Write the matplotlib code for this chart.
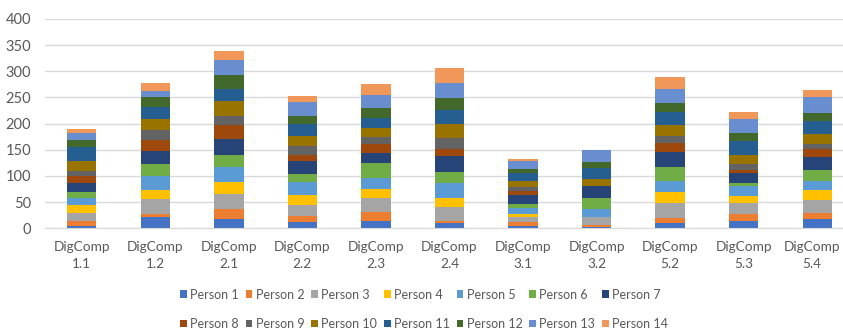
import numpy as np
import matplotlib
matplotlib.use('Agg')
import matplotlib.pyplot as plt
from matplotlib.transforms import ScaledTranslation

plt.rcParams['font.family'] = ['Lato', 'DejaVu Sans']

# Datos
categorias = ['DigComp\n1.1', 'DigComp\n1.2', 'DigComp\n2.1', 'DigComp\n2.2', 'DigComp\n2.3',
              'DigComp\n2.4', 'DigComp\n3.1', 'DigComp\n3.2', 'DigComp\n5.2', 'DigComp\n5.3',
              'DigComp\n5.4']

person_1 = [5, 21, 18, 12, 14, 10, 5, 3, 11, 14, 18]
person_2 = [9, 7, 18, 11, 18, 4, 7, 4, 9, 14, 11]
person_3 = [16, 28, 30, 22, 25, 26, 9, 14, 28, 20, 26]
person_4 = [14, 17, 22, 19, 18, 17, 6, 0, 22, 14, 18]
person_5 = [13, 27, 29, 25, 22, 29, 11, 16, 20, 18, 17]
person_6 = [13, 22, 23, 15, 27, 22, 9, 20, 28, 7, 21]
person_7 = [16, 25, 30, 25, 20, 30, 16, 23, 27, 18, 25]
person_8 = [13, 21, 27, 11, 17, 13, 9, 0, 18, 7, 15]
person_9 = [11, 20, 18, 18, 13, 21, 6, 0, 14, 11, 11]
person_10 = [18, 20, 29, 18, 18, 27, 12, 15, 20, 17, 19]
person_11 = [27, 24, 22, 23, 18, 27, 16, 20, 25, 26, 24]
person_12 = [14, 18, 27, 15, 20, 23, 7, 12, 18, 16, 16]
person_13 = [14, 12, 29, 27, 24, 29, 15, 23, 27, 27, 29]
person_14 = [6, 16, 16, 12, 21, 28, 5, 0, 23, 13, 14]

series = [person_1, person_2, person_3, person_4, person_5, person_6, person_7,
          person_8, person_9, person_10, person_11, person_12, person_13, person_14]
nombres = ['Person %d' % (i + 1) for i in range(len(series))]

colores = ['#4472C4', '#ED7D31', '#A5A5A5', '#FFC000', '#5B9BD5', '#70AD47', '#264478',
           '#9E480E', '#636363', '#997300', '#255E91', '#43682B', '#698ED0', '#F1975A']

# Gráfica
fig = plt.figure(figsize=(8.43, 3.29), dpi=100)
ax = fig.add_axes([45/843, 1 - 228.3/329, 809/843, (228.3 - 19)/329])

x = np.arange(len(categorias))
base = np.zeros(len(categorias))
barras = []
for vals, nombre, col in zip(series, nombres, colores):
    b = ax.bar(x, vals, width=0.4, bottom=base, color=col, label=nombre)
    barras.append(b)
    base += np.array(vals)

ax.set_xlim(-0.5, len(categorias) - 0.5)
ax.set_ylim(0, 400)
ax.set_yticks(np.arange(0, 401, 50))
ax.set_xticks(x)
ax.set_xticklabels(categorias, linespacing=1.5)
ax.yaxis.grid(True, color='#d9d9d9', linewidth=1)
ax.set_axisbelow(True)
for s in ['top', 'right', 'left']:
    ax.spines[s].set_visible(False)
ax.spines['bottom'].set_color('#d9d9d9')
ax.tick_params(axis='both', length=0, colors='#595959', labelsize=10.5)
ax.tick_params(axis='x', labelsize=9.8, pad=9)
ax.tick_params(axis='y', pad=10)

# la última etiqueta se corta con el borde: se desplaza un poco a la izquierda
ultima = ax.get_xticklabels()[-1]
ultima.set_transform(ultima.get_transform() + ScaledTranslation(-4/72, 0, fig.dpi_scale_trans))

# leyenda por filas (matplotlib rellena por columnas)
orden = []
for i in range(7):
    orden += [i, i + 7]
fig.legend([barras[i] for i in orden], [nombres[i] for i in orden],
           loc='center', bbox_to_anchor=(0.503, 0.06), ncol=7, frameon=False,
           fontsize=9, handlelength=0.55, handleheight=0.55, handletextpad=0.25,
           columnspacing=0.55, labelspacing=1.4, labelcolor='#595959')

fig.savefig('out.png', dpi=100)
